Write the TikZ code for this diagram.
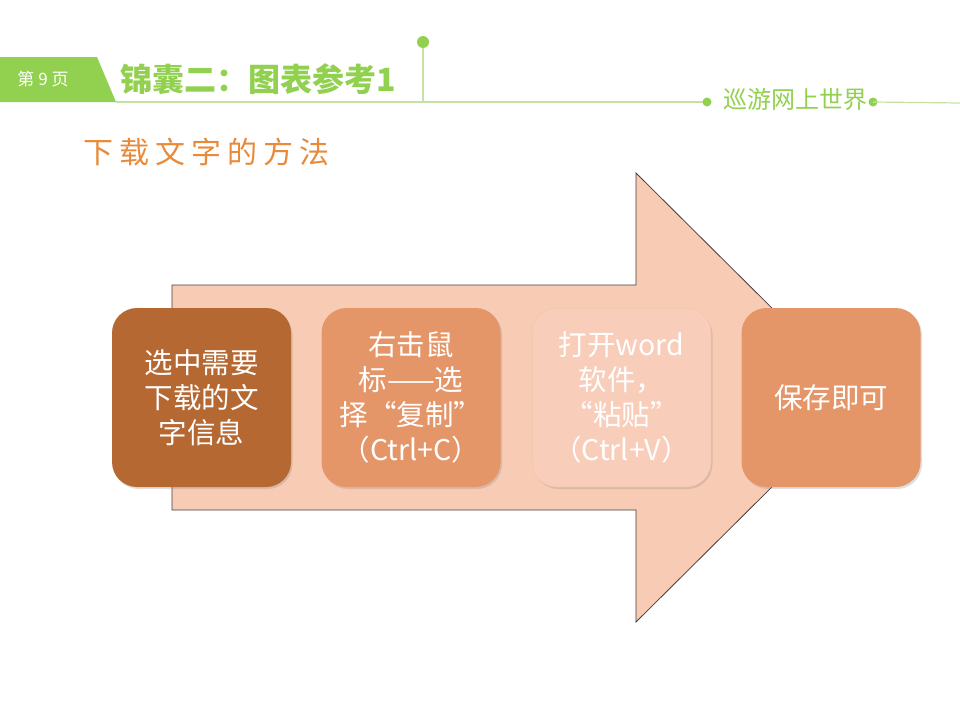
\documentclass[tikz,border=0pt]{standalone}
\usepackage{fontspec}
\setmainfont{Noto Sans CJK SC}
\usepackage{tikz}
\usetikzlibrary{shadows}

\definecolor{leafgreen}{RGB}{146,208,80}
\definecolor{palegreen}{RGB}{196,226,166}
\definecolor{titleorange}{RGB}{232,138,58}
\definecolor{arrowpeach}{RGB}{248,203,181}
\definecolor{boxbrown}{RGB}{181,104,50}
\definecolor{boxorange}{RGB}{229,150,105}
\definecolor{boxlight}{RGB}{248,205,186}

\tikzset{
  stepbox/.style={minimum width=179pt, minimum height=179pt, rounded corners=25pt,
    text=white, align=center, font=\fontsize{28.5}{35}\selectfont,
    drop shadow={opacity=0.25, shadow xshift=1.5pt, shadow yshift=-2pt}},
  greendot/.style={fill=leafgreen, draw=none}
}

\begin{document}
\begin{tikzpicture}[x=1pt, y=-1pt]
  \useasboundingbox (0,0) rectangle (960,720);
  % header band and page tag
  \fill[leafgreen] (0,57) -- (97,57) -- (116,102) -- (0,102) -- cycle;
  \node (page) at (43,79) {\fontsize{17}{17}\selectfont\color{white}第~9~页};
  \node[anchor=west] (title) at (117,79) {\fontsize{32}{32}\selectfont\bfseries\color{leafgreen}锦囊二：图表参考1};
  % rule with pin
  \draw[palegreen, line width=1.2pt] (116,102) -- (707,102);
  \draw[palegreen, line width=1.2pt] (423,44) -- (423,102);
  \fill[greendot] (423,42) circle (6);
  \fill[greendot] (707,102) circle (4.5);
  \node (motto) at (795,99) {\fontsize{24}{24}\selectfont\color{leafgreen}巡游网上世界};
  \fill[greendot] (873,102) circle (4.5);
  \draw[palegreen, line width=1.2pt] (873,102) -- (960,103);
  % subtitle
  \node[anchor=west] (sub) at (80,152)
    {\fontsize{30}{30}\selectfont\addfontfeature{LetterSpace=20}\color{titleorange}下载文字的方法};
  % big arrow, tip at 862
  \draw[fill=arrowpeach, draw=black!75, line width=0.8pt]
    (172,285) -- (636,285) -- (636,173) -- (862,397.5) -- (636,622)
    -- (636,510) -- (172,510) -- cycle;
  % steps
  \node[stepbox, fill=boxbrown] (s1) at (201.5,397.5) {选中需要\\下载的文\\字信息};
  \node[stepbox, fill=boxorange] (s2) at (411,397.5) {右击鼠\\标——选\\择“复制”\\（Ctrl+C）};
  \node[stepbox, fill=boxlight, draw=boxlight!85!boxorange, line width=0.6pt] (s3) at (621.5,397.5)
    {打开word\\软件，\\“粘贴”\\（Ctrl+V）};
  \node[stepbox, fill=boxorange] (s4) at (831,397.5) {保存即可};
\end{tikzpicture}
\end{document}
